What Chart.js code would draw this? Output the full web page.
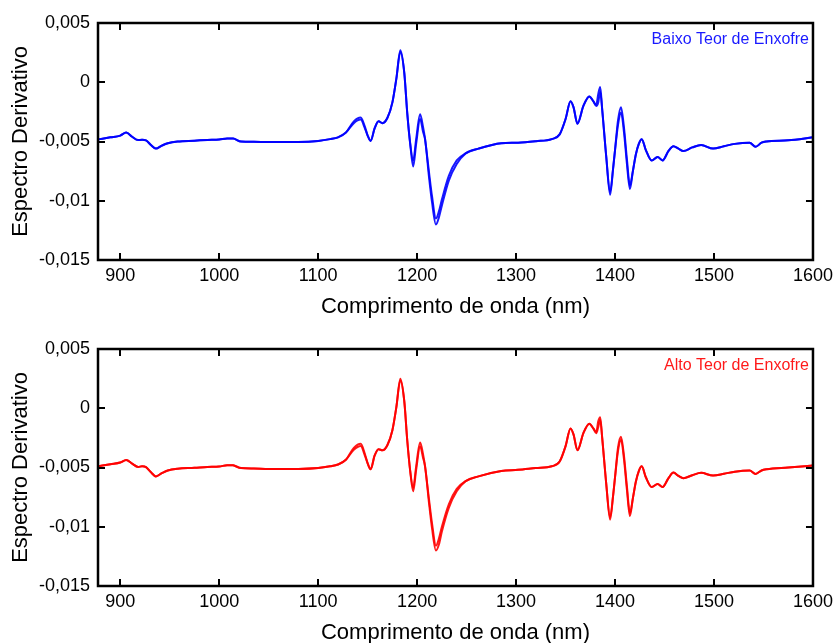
<!DOCTYPE html>
<html lang="pt">
<head>
    <meta charset="UTF-8">
    <title>Espectro Derivativo - Baixo e Alto Teor de Enxofre</title>
    <script src="https://cdn.jsdelivr.net/npm/chart.js"></script>
    <style>
        html, body {
            margin: 0;
            padding: 0;
            background-color: white;
            overflow: hidden;
        }
        .chart-box {
            position: absolute;
            left: 0;
            width: 838px;
            height: 325px;
        }
        #boxTop { top: 0; }
        #boxBottom { top: 326px; }
    </style>
</head>
<body>
    <div class="chart-box" id="boxTop"><canvas id="chartBaixo" width="838" height="325"></canvas></div>
    <div class="chart-box" id="boxBottom"><canvas id="chartAlto" width="838" height="325"></canvas></div>

    <script>
        // Comprimento de onda (nm)
        const wavelengths = [
            878, 890, 900, 906, 912, 918, 922, 926, 931, 936,
            942, 948, 958, 975, 988, 1000, 1008, 1014, 1022, 1035,
            1050, 1080, 1100, 1112, 1120, 1128, 1136, 1143, 1147, 1150,
            1153, 1157, 1161, 1165, 1170, 1175, 1179, 1183, 1187, 1190,
            1193, 1196, 1199, 1203, 1206, 1208, 1212, 1215, 1219, 1222,
            1225, 1232, 1240, 1249, 1262, 1285, 1302, 1320, 1336, 1344,
            1350, 1355, 1358, 1362, 1368, 1374, 1378, 1381, 1383, 1385,
            1387, 1391, 1395, 1398, 1400, 1403, 1406, 1409, 1412, 1415,
            1418, 1421, 1424, 1427, 1431, 1437, 1443, 1448, 1454, 1459,
            1464, 1469, 1478, 1487, 1499, 1510, 1521, 1536, 1542, 1548,
            1553, 1575, 1600
        ];

        // Baixo teor de enxofre (two spectra of the band)
        const baixoA = [
            -0.00482, -0.00465, -0.00450, -0.00425, -0.00460, -0.00488, -0.00485, -0.00490, -0.00530, -0.00560,
            -0.00535, -0.00515, -0.00500, -0.00493, -0.00487, -0.00483, -0.00474, -0.00475, -0.00500, -0.00502,
            -0.00505, -0.00504, -0.00495, -0.00480, -0.00465, -0.00425, -0.00330, -0.00298, -0.00370, -0.00450,
            -0.00495, -0.00390, -0.00330, -0.00345, -0.00300, -0.00170, 0.00030, 0.00270, 0.00080, -0.00260,
            -0.00520, -0.00660, -0.00480, -0.00270, -0.00380, -0.00480, -0.00760, -0.00960, -0.01150, -0.01090,
            -0.00990, -0.00790, -0.00660, -0.00600, -0.00560, -0.00515, -0.00510, -0.00497, -0.00480, -0.00440,
            -0.00310, -0.00160, -0.00210, -0.00350, -0.00200, -0.00120, -0.00160, -0.00190, -0.00100, -0.00040,
            -0.00230, -0.00620, -0.00950, -0.00730, -0.00570, -0.00320, -0.00210, -0.00380, -0.00650, -0.00870,
            -0.00750, -0.00610, -0.00520, -0.00480, -0.00570, -0.00660, -0.00630, -0.00660, -0.00580, -0.00540,
            -0.00560, -0.00580, -0.00550, -0.00530, -0.00560, -0.00540, -0.00520, -0.00510, -0.00545, -0.00510,
            -0.00500, -0.00490, -0.00465
        ];
        const baixoB = [
            -0.00482, -0.00465, -0.00450, -0.00425, -0.00460, -0.00488, -0.00485, -0.00490, -0.00530, -0.00560,
            -0.00535, -0.00515, -0.00500, -0.00493, -0.00487, -0.00483, -0.00474, -0.00475, -0.00500, -0.00502,
            -0.00505, -0.00504, -0.00495, -0.00480, -0.00465, -0.00425, -0.00345, -0.00315, -0.00385, -0.00450,
            -0.00495, -0.00390, -0.00330, -0.00345, -0.00300, -0.00170, 0.00030, 0.00255, 0.00080, -0.00260,
            -0.00520, -0.00710, -0.00520, -0.00310, -0.00420, -0.00480, -0.00800, -0.01010, -0.01200, -0.01140,
            -0.01040, -0.00830, -0.00690, -0.00600, -0.00560, -0.00515, -0.00510, -0.00497, -0.00480, -0.00440,
            -0.00310, -0.00160, -0.00210, -0.00350, -0.00200, -0.00120, -0.00160, -0.00200, -0.00170, -0.00080,
            -0.00230, -0.00620, -0.00925, -0.00730, -0.00570, -0.00360, -0.00255, -0.00420, -0.00690, -0.00900,
            -0.00750, -0.00610, -0.00520, -0.00480, -0.00570, -0.00660, -0.00630, -0.00660, -0.00580, -0.00540,
            -0.00560, -0.00580, -0.00550, -0.00530, -0.00560, -0.00540, -0.00520, -0.00510, -0.00545, -0.00510,
            -0.00500, -0.00490, -0.00465
        ];

        // Alto teor de enxofre
        const altoA = [
            -0.00490, -0.00472, -0.00458, -0.00436, -0.00468, -0.00495, -0.00490, -0.00497, -0.00540, -0.00575,
            -0.00548, -0.00525, -0.00510, -0.00503, -0.00495, -0.00492, -0.00480, -0.00482, -0.00505, -0.00508,
            -0.00512, -0.00512, -0.00505, -0.00490, -0.00475, -0.00435, -0.00335, -0.00300, -0.00380, -0.00465,
            -0.00515, -0.00400, -0.00345, -0.00355, -0.00310, -0.00185, 0.00010, 0.00250, 0.00060, -0.00270,
            -0.00530, -0.00670, -0.00490, -0.00290, -0.00390, -0.00490, -0.00770, -0.00970, -0.01160, -0.01100,
            -0.01000, -0.00810, -0.00680, -0.00615, -0.00575, -0.00530, -0.00520, -0.00505, -0.00490, -0.00450,
            -0.00320, -0.00170, -0.00220, -0.00355, -0.00210, -0.00130, -0.00170, -0.00200, -0.00110, -0.00075,
            -0.00250, -0.00630, -0.00940, -0.00740, -0.00580, -0.00330, -0.00240, -0.00400, -0.00660, -0.00885,
            -0.00760, -0.00620, -0.00530, -0.00490, -0.00580, -0.00665, -0.00640, -0.00665, -0.00590, -0.00543,
            -0.00570, -0.00590, -0.00565, -0.00545, -0.00568, -0.00553, -0.00535, -0.00525, -0.00554, -0.00525,
            -0.00515, -0.00500, -0.00484
        ];
        const altoB = [
            -0.00490, -0.00472, -0.00458, -0.00436, -0.00468, -0.00495, -0.00490, -0.00497, -0.00540, -0.00575,
            -0.00548, -0.00525, -0.00510, -0.00503, -0.00495, -0.00492, -0.00480, -0.00482, -0.00505, -0.00508,
            -0.00512, -0.00512, -0.00505, -0.00490, -0.00475, -0.00435, -0.00350, -0.00318, -0.00395, -0.00465,
            -0.00515, -0.00400, -0.00345, -0.00355, -0.00310, -0.00185, 0.00010, 0.00235, 0.00060, -0.00270,
            -0.00530, -0.00700, -0.00520, -0.00320, -0.00420, -0.00490, -0.00800, -0.01010, -0.01200, -0.01150,
            -0.01040, -0.00840, -0.00700, -0.00615, -0.00575, -0.00530, -0.00520, -0.00505, -0.00490, -0.00450,
            -0.00320, -0.00170, -0.00220, -0.00355, -0.00210, -0.00130, -0.00170, -0.00210, -0.00160, -0.00100,
            -0.00250, -0.00630, -0.00920, -0.00740, -0.00580, -0.00360, -0.00265, -0.00430, -0.00690, -0.00910,
            -0.00760, -0.00620, -0.00530, -0.00490, -0.00580, -0.00665, -0.00640, -0.00665, -0.00590, -0.00543,
            -0.00570, -0.00590, -0.00565, -0.00545, -0.00568, -0.00553, -0.00535, -0.00525, -0.00554, -0.00525,
            -0.00515, -0.00500, -0.00484
        ];

        const xTickValues = [900, 1000, 1100, 1200, 1300, 1400, 1500, 1600];
        const yTickValues = [-0.015, -0.01, -0.005, 0, 0.005];
        const yTickLabels = ['-0,015', '-0,01', '-0,005', '0', '0,005'];

        const FONT = "'Liberation Sans', Arial, sans-serif";

        // frame with inward ticks on all four sides + the sample label
        const framePlugin = {
            id: 'frame',
            afterDraw(chart, args, opts) {
                const ctx = chart.ctx;
                const a = chart.chartArea;
                const xs = chart.scales.x, ys = chart.scales.y;
                const len = 7;
                ctx.save();
                ctx.strokeStyle = 'black';
                ctx.lineWidth = 2;
                ctx.beginPath();
                xs.ticks.forEach(t => {
                    const px = Math.round(xs.getPixelForValue(t.value));
                    ctx.moveTo(px, a.bottom); ctx.lineTo(px, a.bottom - len);
                    ctx.moveTo(px, a.top); ctx.lineTo(px, a.top + len);
                });
                ys.ticks.forEach(t => {
                    const py = Math.round(ys.getPixelForValue(t.value));
                    ctx.moveTo(a.left, py); ctx.lineTo(a.left + len, py);
                    ctx.moveTo(a.right, py); ctx.lineTo(a.right - len, py);
                });
                ctx.stroke();
                ctx.lineWidth = 2.5;
                ctx.strokeRect(a.left, a.top, a.right - a.left, a.bottom - a.top);

                ctx.fillStyle = opts.color;
                ctx.font = '16px ' + FONT;
                ctx.textAlign = 'right';
                ctx.textBaseline = 'middle';
                ctx.fillText(opts.text, a.right - 4, a.top + 17);
                ctx.restore();
            }
        };

        function makeChart(canvasId, seriesList, color, label) {
            const ctx = document.getElementById(canvasId).getContext('2d');
            const datasets = seriesList.map(values => ({
                data: wavelengths.map((w, i) => ({ x: w, y: values[i] })),
                borderColor: color,
                borderWidth: 2,
                pointRadius: 0,
                fill: false,
                cubicInterpolationMode: 'monotone'
            }));

            return new Chart(ctx, {
                type: 'line',
                data: { datasets: datasets },
                options: {
                    responsive: false,
                    animation: false,
                    layout: { padding: { top: 23, right: 22, left: 0, bottom: 0 } },
                    scales: {
                        x: {
                            type: 'linear',
                            min: 877.5,
                            max: 1600,
                            afterBuildTicks: scale => {
                                scale.ticks = xTickValues.map(v => ({ value: v }));
                            },
                            afterFit: scale => { scale.height = 65; },
                            ticks: {
                                autoSkip: false,
                                maxRotation: 0,
                                padding: 5,
                                color: 'black',
                                font: { family: FONT, size: 18 },
                                callback: value => String(value)
                            },
                            grid: { display: false, drawTicks: false },
                            border: { display: false },
                            title: {
                                display: true,
                                text: 'Comprimento de onda (nm)',
                                color: 'black',
                                font: { family: FONT, size: 22 },
                                padding: { top: 0, bottom: 5 }
                            }
                        },
                        y: {
                            min: -0.015,
                            max: 0.005,
                            afterBuildTicks: scale => {
                                scale.ticks = yTickValues.map(v => ({ value: v }));
                            },
                            afterFit: scale => { scale.width = 98; },
                            ticks: {
                                autoSkip: false,
                                padding: 8,
                                color: 'black',
                                font: { family: FONT, size: 18 },
                                callback: (value, index) => yTickLabels[index]
                            },
                            grid: { display: false, drawTicks: false },
                            border: { display: false },
                            title: {
                                display: true,
                                text: 'Espectro Derivativo',
                                color: 'black',
                                font: { family: FONT, size: 22 },
                                padding: { top: 8, bottom: 0 }
                            }
                        }
                    },
                    plugins: {
                        legend: { display: false },
                        tooltip: { enabled: false },
                        frame: { text: label, color: color }
                    }
                },
                plugins: [framePlugin]
            });
        }

        makeChart('chartBaixo', [baixoA, baixoB], 'rgba(0, 0, 255, 0.9)', 'Baixo Teor de Enxofre');
        makeChart('chartAlto', [altoA, altoB], 'rgba(255, 0, 0, 0.9)', 'Alto Teor de Enxofre');
    </script>
</body>
</html>
